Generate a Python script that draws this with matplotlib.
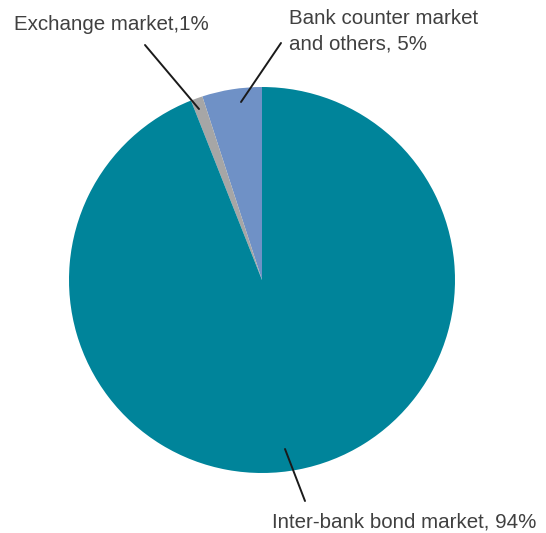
import matplotlib.pyplot as plt

labels = ["Bank counter market\nand others, 5%", "Exchange market,1%", "Inter-bank bond market, 94%"]
shares = [5, 1, 94]
colors = ["#6f91c6", "#a6a6a6", "#00849a"]

plt.rcParams["font.family"] = ["Liberation Sans", "DejaVu Sans"]

fig = plt.figure(figsize=(5.46, 5.33), dpi=100)
ax = fig.add_axes([0, 0, 1, 1])

# pie laid out in pixel units (y up)
ax.pie(shares, colors=colors, startangle=90, counterclock=True,
       center=(262, 253), radius=193, frame=True,
       wedgeprops=dict(linewidth=0))
ax.set_xlim(0, 546)
ax.set_ylim(0, 533)
ax.axis("off")

txt = dict(fontsize=14.8, color="#404040")
line = dict(arrowstyle="-", color="#1a1a1a", lw=1.4, shrinkA=0, shrinkB=0)

# Bank counter
ax.annotate("", xy=(241, 431), xytext=(281, 490), arrowprops=line)
ax.text(289, 524, labels[0], ha="left", va="top", linespacing=1.45, **txt)
# Exchange
ax.annotate("", xy=(199, 424), xytext=(145, 488), arrowprops=line)
ax.text(14, 499, labels[1], ha="left", va="bottom", **txt)
# Inter-bank
ax.annotate("", xy=(285, 84), xytext=(305, 32), arrowprops=line)
ax.text(272, 11, labels[2], ha="left", va="center", **txt)

fig.savefig("out.png", dpi=100)
